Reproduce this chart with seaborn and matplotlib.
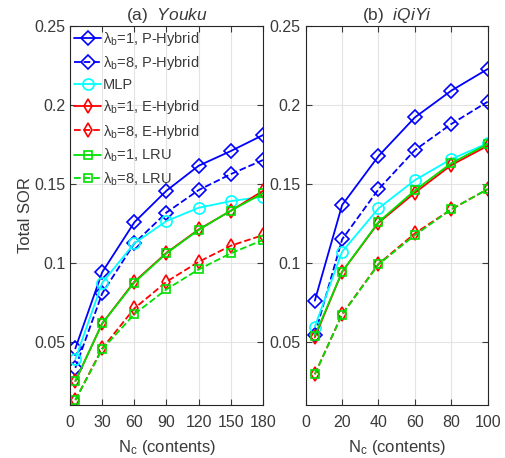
import numpy as np
import pandas as pd
import matplotlib
matplotlib.use("Agg")
import matplotlib.pyplot as plt
import seaborn as sns

sns.set_style("white")
plt.rcParams['font.family'] = ['Liberation Sans', 'DejaVu Sans']
plt.rcParams['mathtext.fontset'] = 'custom'
plt.rcParams['mathtext.rm'] = 'Liberation Sans'
plt.rcParams['mathtext.it'] = 'Liberation Sans:italic'

# ---------------- data ----------------
x_youku = [5, 30, 60, 90, 120, 150, 180]
x_iqiyi = [5, 20, 40, 60, 80, 100]

youku_p1 = [0.0458, 0.0940, 0.1256, 0.1456, 0.1614, 0.1707, 0.1808]
youku_p8 = [0.0335, 0.0806, 0.1123, 0.1318, 0.1460, 0.1561, 0.1650]
youku_mlp = [0.0390, 0.0873, 0.1123, 0.1264, 0.1348, 0.1390, 0.1418]
youku_e1 = [0.0251, 0.0616, 0.0880, 0.1063, 0.1211, 0.1329, 0.1455]
youku_e8 = [0.0131, 0.0458, 0.0711, 0.0880, 0.1006, 0.1108, 0.1175]
youku_l1 = [0.0251, 0.0616, 0.0875, 0.1060, 0.1208, 0.1330, 0.1439]
youku_l8 = [0.0131, 0.0452, 0.0675, 0.0832, 0.0958, 0.1060, 0.1144]

iqiyi_p1 = [0.0760, 0.1365, 0.1675, 0.1920, 0.2089, 0.2226]
iqiyi_p8 = [0.0545, 0.1148, 0.1465, 0.1713, 0.1878, 0.2019]
iqiyi_mlp = [0.0595, 0.1070, 0.1344, 0.1523, 0.1656, 0.1756]
iqiyi_e1 = [0.0528, 0.0943, 0.1253, 0.1443, 0.1618, 0.1740]
iqiyi_e8 = [0.0294, 0.0675, 0.0992, 0.1186, 0.1338, 0.1466]
iqiyi_l1 = [0.0538, 0.0943, 0.1258, 0.1458, 0.1630, 0.1752]
iqiyi_l8 = [0.0294, 0.0672, 0.0990, 0.1175, 0.1338, 0.1466]

labels = ['λ$_{\\rm b}$=1, P-Hybrid', 'λ$_{\\rm b}$=8, P-Hybrid', 'MLP',
          'λ$_{\\rm b}$=1, E-Hybrid', 'λ$_{\\rm b}$=8, E-Hybrid',
          'λ$_{\\rm b}$=1, LRU', 'λ$_{\\rm b}$=8, LRU']
yticks = [0.05, 0.1, 0.15, 0.2, 0.25]
ytick_labels = ['0.05', '0.1', '0.15', '0.2', '0.25']
xticks_youku = [0, 30, 60, 90, 120, 150, 180]
xticks_iqiyi = [0, 20, 40, 60, 80, 100]

styles = [
    dict(color='#0000ff', ls='-', marker='D', ms=7),
    dict(color='#0000ff', ls='--', marker='D', ms=7),
    dict(color='#00ffff', ls='-', marker='o', ms=8),
    dict(color='#ff0000', ls='-', marker='d', ms=7),
    dict(color='#ff0000', ls='--', marker='d', ms=7),
    dict(color='#00e000', ls='-', marker='s', ms=6),
    dict(color='#00e000', ls='--', marker='s', ms=6),
]

txt = '#3a3a3a'
fig = plt.figure(figsize=(5.06, 4.58), dpi=100)
ax1 = fig.add_axes([70/506, 1-405/458, 193/506, 379.3/458])
ax2 = fig.add_axes([305.7/506, 1-405/458, 182/506, 379.3/458])

panels = [
    (ax1, x_youku, [youku_p1, youku_p8, youku_mlp, youku_e1, youku_e8, youku_l1, youku_l8],
     '(a)  ', 'Youku', (0, 180), xticks_youku),
    (ax2, x_iqiyi, [iqiyi_p1, iqiyi_p8, iqiyi_mlp, iqiyi_e1, iqiyi_e8, iqiyi_l1, iqiyi_l8],
     '(b)  ', 'iQiYi', (0, 100), xticks_iqiyi),
]

for ax, xs, series, pre, name, xlim, xt in panels:
    for ys, st, lab in zip(series, styles, labels):
        df = pd.DataFrame({'x': xs, 'y': ys})
        sns.lineplot(data=df, x='x', y='y', ax=ax, color=st['color'], linestyle=st['ls'],
                     marker=st['marker'], markersize=st['ms'], markerfacecolor='none',
                     markeredgecolor=st['color'], markeredgewidth=1.2, linewidth=1.3,
                     label=lab, legend=False, errorbar=None)
    ax.set_xlim(*xlim)
    ax.set_ylim(0.01, 0.25)
    ax.set_xticks(xt)
    ax.set_yticks(yticks)
    ax.set_yticklabels(ytick_labels)
    ax.grid(True, color='#e3e3e3', linewidth=0.8)
    ax.tick_params(direction='in', length=4, labelsize=11.5, colors=txt, top=True, right=True,
                   bottom=True, left=True, width=0.8)
    ax.tick_params(axis='x', pad=7)
    for sp in ax.spines.values():
        sp.set_color('#262626')
        sp.set_linewidth(0.8)
    ax.set_xlabel(r'N$_{\rm c}$ (contents)', fontsize=12, color=txt, labelpad=6)
    ax.set_ylabel('')
    ax.set_title(pre + r'$\it{' + name + '}$', fontsize=12.5, color=txt, pad=4)

ax1.set_ylabel('Total SOR', fontsize=12, color=txt, labelpad=1)
leg = ax1.legend(loc='upper left', frameon=False, fontsize=10.5, handlelength=1.8,
                 borderaxespad=0.1, labelspacing=0.42, handletextpad=0.15,
                 borderpad=0.2)
for t in leg.get_texts():
    t.set_color(txt)

fig.savefig('out.png', dpi=100)
